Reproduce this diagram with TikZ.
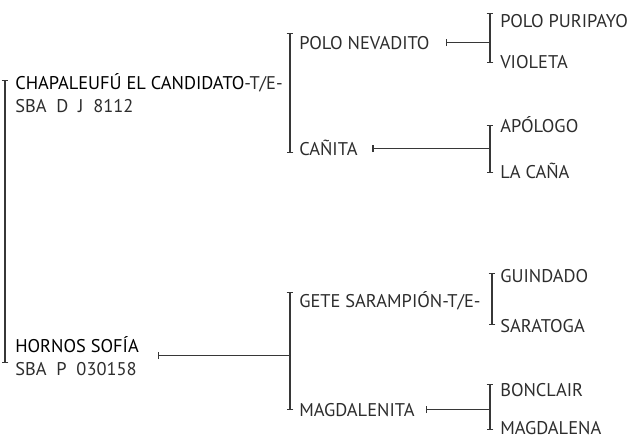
\documentclass[tikz,border=0pt]{standalone}
\usepackage{fontspec}
\setmainfont{PT Sans}
\usetikzlibrary{arrows.meta}
\definecolor{cTxt}{RGB}{45,45,45}
\definecolor{cLine}{RGB}{55,55,55}

\begin{document}
\begin{tikzpicture}[x=0.75pt,y=-0.75pt,
  horse/.style={anchor=base west,inner sep=0pt,text=cTxt,
    font=\fontsize{13.8}{16}\selectfont,text height=9.5pt,text depth=0pt},
  parent/.style={anchor=base west,inner sep=0pt,align=left,text=cTxt,
    font=\fontsize{13.8}{17}\selectfont},
  bracket/.style={draw=cLine,line width=1pt,{Bar[width=5pt]}-{Bar[width=5pt]}},
  link/.style={draw=cLine,line width=1pt,{Bar[width=5pt]}-}]
\useasboundingbox (0,0) rectangle (635,440);
% parents
\node[parent] (sire) at (15,112) {\textcolor{black}{CHAPALEUFÚ EL CANDIDATO}-T/E-\\SBA\ \ D\ \ J\ \ 8112};
\node[parent] (dam) at (15,375) {\textcolor{black}{HORNOS SOFÍA}\\SBA\ \ P\ \ 030158};
\coordinate (b1top) at (5,80);
\coordinate (b1bot) at (5,363);
\draw[bracket] (b1top) -- (b1bot);
% grandparents
\node[horse] (nevadito) at (299,49) {POLO NEVADITO};
\node[horse] (canita) at (299,155) {CAÑITA};
\node[horse] (gete) at (299,307) {GETE SARAMPIÓN-T/E-};
\node[horse] (magdalenita) at (299,416) {MAGDALENITA};
\coordinate (b2top) at (290,33);
\coordinate (b2bot) at (290,153);
\coordinate (b3top) at (290,292);
\coordinate (b3bot) at (290,410);
\draw[bracket] (b2top) -- (b2bot);
\draw[bracket] (b3top) -- (b3bot);
\draw[link] ([xshift=14pt]dam.east) -- (dam.east -| b3top);
% great-grandparents
\node[horse] (puripayo) at (500,27) {POLO PURIPAYO};
\node[horse] (violeta) at (500,68) {VIOLETA};
\node[horse] (apologo) at (500,132) {APÓLOGO};
\node[horse] (lacana) at (500,178) {LA CAÑA};
\node[horse] (guindado) at (500,282) {GUINDADO};
\node[horse] (saratoga) at (500,332) {SARATOGA};
\node[horse] (bonclair) at (500,396) {BONCLAIR};
\node[horse] (magdalena) at (500,434) {MAGDALENA};
\coordinate (b4top) at (490,13);
\coordinate (b4bot) at (490,63);
\coordinate (b5top) at (490,125);
\coordinate (b5bot) at (490,173);
\coordinate (b6top) at (492,273);
\coordinate (b6bot) at (492,325);
\coordinate (b7top) at (490,384);
\coordinate (b7bot) at (490,430);
\draw[bracket] (b4top) -- (b4bot);
\draw[bracket] (b5top) -- (b5bot);
\draw[bracket] (b6top) -- (b6bot);
\draw[bracket] (b7top) -- (b7bot);
\draw[link] ([xshift=12pt]nevadito.east) -- (nevadito.east -| b4top);
\draw[link] ([xshift=11pt]canita.east) -- (canita.east -| b5top);
\draw[link] ([xshift=8pt]magdalenita.east) -- (magdalenita.east -| b7top);
\end{tikzpicture}
\end{document}
